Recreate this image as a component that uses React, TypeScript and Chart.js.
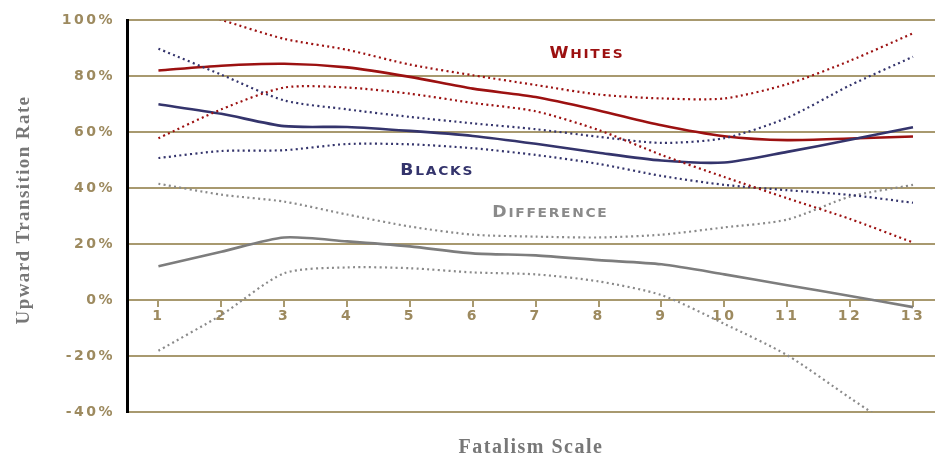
import React, { useEffect, useRef } from 'react';
import { Chart, registerables } from 'chart.js';

Chart.register(...registerables);

// ---- data ----
const xValues = [1, 2, 3, 4, 5, 6, 7, 8, 9, 10, 11, 12, 13];
const xTickValues = [1, 2, 3, 4, 5, 6, 7, 8, 9, 10, 11, 12, 13];
const yTickValues = [-40, -20, 0, 20, 40, 60, 80, 100];

const whites = [82.1, 83.8, 84.5, 83.2, 79.8, 75.6, 72.6, 67.8, 62.5, 58.6, 57.2, 57.8, 58.5];
const whitesUpper = [107, 100.2, 93.4, 89.5, 84.2, 80.4, 76.9, 73.5, 72.1, 72.1, 77.2, 85.6, 95.4];
const whitesLower = [57.9, 68.2, 76.0, 76.0, 73.8, 70.5, 67.5, 60.8, 51.9, 44.0, 36.4, 29.0, 20.6];

const blacks = [70.0, 66.6, 62.2, 61.9, 60.5, 58.7, 55.9, 52.7, 49.9, 49.2, 53.0, 57.3, 61.8];
const blacksUpper = [89.9, 80.6, 71.4, 68.2, 65.5, 63.2, 61.1, 58.4, 56.2, 57.9, 65.2, 76.8, 87.0];
const blacksLower = [50.8, 53.3, 53.6, 55.8, 55.7, 54.3, 51.9, 48.7, 44.4, 41.2, 39.3, 37.6, 34.8];

const difference = [12.1, 17.3, 22.4, 21.0, 19.2, 16.7, 16.0, 14.3, 12.8, 9.2, 5.3, 1.5, -2.5];
const differenceUpper = [41.6, 37.7, 35.2, 30.6, 26.3, 23.4, 22.7, 22.4, 23.4, 26.0, 28.8, 37.0, 41.2];
const differenceLower = [-18.1, -5.3, 9.6, 11.7, 11.4, 9.9, 9.2, 6.7, 1.8, -8.5, -19.7, -35.0, -50.0];

const seriesLabels = ['Whites', 'Blacks', 'Difference'];
// label anchor (center) in data coordinates
const labelX = [7.8, 5.42, 7.22];
const labelY = [88.6, 46.6, 31.6];

const xTitle = 'Fatalism Scale';
const yTitle = 'Upward Transition Rate';

// ---- styles ----
const RED = '#9c1111';
const NAVY = '#34346c';
const GREY = '#7d7d7d';
const GREY_DOT = '#8a8a8a';
const TAN = '#a8996f';
const TAN_TEXT = '#9d8a5f';
const TITLE_GREY = '#777777';
const seriesColors = [RED, NAVY, '#8a8a8a'];

const tickFont = { family: '"DejaVu Sans", sans-serif', size: 14, weight: 'bold' as const };

function drawSmallCaps(
  ctx: CanvasRenderingContext2D,
  text: string,
  cx: number,
  cy: number,
  color: string
) {
  const big = 15;
  const small = 12;
  const spacing = 1.5;
  const sx = 1.15;
  const first = text[0].toUpperCase();
  const rest = text.slice(1).toUpperCase();
  ctx.save();
  (ctx as any).letterSpacing = spacing + 'px';
  ctx.fillStyle = color;
  ctx.textBaseline = 'alphabetic';
  ctx.textAlign = 'left';
  ctx.font = `bold ${big}px "DejaVu Sans", sans-serif`;
  const w1 = ctx.measureText(first).width;
  ctx.font = `bold ${small}px "DejaVu Sans", sans-serif`;
  const w2 = ctx.measureText(rest).width;
  const total = (w1 + w2 - spacing) * sx;
  const baseline = cy + 5.5;
  ctx.translate(cx - total / 2, baseline);
  ctx.scale(sx, 1);
  ctx.font = `bold ${big}px "DejaVu Sans", sans-serif`;
  ctx.fillText(first, 0, 0);
  ctx.font = `bold ${small}px "DejaVu Sans", sans-serif`;
  ctx.fillText(rest, w1, 0);
  ctx.restore();
}

const textPlugin = {
  id: 'customText',
  beforeDraw(chart: any) {
    chart.ctx.letterSpacing = '2.5px';
  },
  afterDraw(chart: any) {
    const ctx: CanvasRenderingContext2D = chart.ctx;
    (ctx as any).letterSpacing = '0px';
    const xs = chart.scales.x;
    const ys = chart.scales.y;
    seriesLabels.forEach((lab, i) => {
      drawSmallCaps(ctx, lab, xs.getPixelForValue(labelX[i]), ys.getPixelForValue(labelY[i]), seriesColors[i]);
    });
    // axis titles
    ctx.save();
    (ctx as any).letterSpacing = '1.5px';
    ctx.fillStyle = TITLE_GREY;
    ctx.font = 'bold 20px "Liberation Serif", serif';
    ctx.textAlign = 'center';
    ctx.textBaseline = 'alphabetic';
    ctx.fillText(xTitle, (chart.chartArea.left + chart.chartArea.right) / 2, 453);
    ctx.restore();

    ctx.save();
    (ctx as any).letterSpacing = '1.4px';
    ctx.fillStyle = TITLE_GREY;
    ctx.font = 'bold 19px "Liberation Serif", serif';
    ctx.textAlign = 'center';
    ctx.textBaseline = 'alphabetic';
    ctx.translate(29, 210);
    ctx.rotate(-Math.PI / 2);
    ctx.fillText(yTitle, 0, 0);
    ctx.restore();
  },
};

function mk(vals: number[], color: string, dotted: boolean) {
  return {
    data: xValues.map((x, i) => ({ x, y: vals[i] })),
    borderColor: color,
    backgroundColor: color,
    borderWidth: dotted ? 2.2 : 2.6,
    borderDash: dotted ? [2, 3.3] : [],
    pointRadius: 0,
    tension: 0.25,
    fill: false,
  };
}

export default function App() {
  const ref = useRef<HTMLCanvasElement>(null);
  useEffect(() => {
    document.body.style.margin = '0';
    const canvas = ref.current!;
    const chart = new Chart(canvas, {
      type: 'line',
      data: {
        datasets: [
          mk(whitesUpper, RED, true),
          mk(whitesLower, RED, true),
          mk(blacksUpper, NAVY, true),
          mk(blacksLower, NAVY, true),
          mk(differenceUpper, GREY_DOT, true),
          mk(differenceLower, GREY_DOT, true),
          mk(difference, GREY, false),
          mk(blacks, NAVY, false),
          mk(whites, RED, false),
        ] as any,
      },
      options: {
        responsive: false,
        animation: false,
        layout: { padding: { top: 18, right: 0, bottom: 44, left: 0 } },
        plugins: { legend: { display: false }, tooltip: { enabled: false } },
        scales: {
          x: {
            type: 'linear',
            min: 0.5,
            max: 13.35,
            position: { y: 0 } as any,
            afterBuildTicks: (s: any) => {
              s.ticks = xTickValues.map((v) => ({ value: v }));
            },
            ticks: {
              color: TAN_TEXT,
              font: tickFont,
              padding: 2,
              autoSkip: false,
              maxRotation: 0,
              callback: (v: any) => String(v),
            },
            grid: { drawOnChartArea: false, drawTicks: true, tickLength: 6, color: TAN, lineWidth: 2 },
            border: { display: true, color: TAN, width: 2 },
          },
          y: {
            type: 'linear',
            min: -40,
            max: 100,
            afterBuildTicks: (s: any) => {
              s.ticks = yTickValues.map((v) => ({ value: v }));
            },
            afterFit: (s: any) => {
              s.width = 127;
            },
            ticks: {
              color: TAN_TEXT,
              font: tickFont,
              padding: 12,
              callback: (v: any) => v + '%',
            },
            grid: { color: TAN, lineWidth: 2, drawTicks: false },
            border: { display: true, color: '#000000', width: 3 },
          },
        },
      } as any,
      plugins: [textPlugin],
    });
    return () => chart.destroy();
  }, []);
  return <canvas ref={ref} width={935} height={456} style={{ display: 'block' }} />;
}
